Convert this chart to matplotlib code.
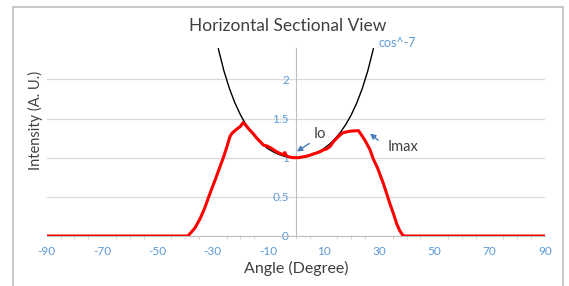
import matplotlib
matplotlib.use("Agg")
import matplotlib.pyplot as plt
from matplotlib.patches import Rectangle
from matplotlib.ticker import MultipleLocator

# measured intensity (red)
red_angle = [-90, -39, -36.5, -34.6, -33, -31, -29, -27.4, -26, -24.9, -23.8, -23.1,
             -21.5, -20, -19, -18, -17.1, -15.5, -14.1, -12.5, -11.7, -10.5, -9.3, -8,
             -6.9, -5.5, -4.5, -4, -3.3, -2.5, -1, 0, 1, 2.5, 4, 5, 6.5, 7.5, 8.7, 10,
             11, 12.3, 13.5, 14.8, 16, 17.1, 18.5, 20, 22.6, 23.5, 25, 26.8, 28, 29.5,
             31.6, 33, 34, 35.2, 36.5, 37.5, 38.8, 90]
red_value = [0, 0, 0.1, 0.22, 0.35, 0.545, 0.73, 0.885, 1.02, 1.14, 1.27, 1.31,
             1.36, 1.40, 1.45, 1.41, 1.37, 1.31, 1.25, 1.19, 1.16, 1.15, 1.13, 1.10,
             1.075, 1.05, 1.04, 1.065, 1.02, 1.01, 1.0, 1.0, 1.0, 1.01, 1.02, 1.03, 1.05, 1.06, 1.075, 1.10,
             1.11, 1.14, 1.20, 1.25, 1.29, 1.32, 1.33, 1.34, 1.345, 1.30, 1.22, 1.10, 0.98, 0.87,
             0.67, 0.52, 0.41, 0.29, 0.15, 0.07, 0, 0]

# cos^-7 reference curve (black)
cos_angle = [-28, -26, -24, -22, -20, -18, -16, -14, -12, -10, -8, -6, -4, -2, 0,
             2, 4, 6, 8, 10, 12, 14, 16, 18, 20, 22, 24, 26, 28]
cos_value = [2.390, 2.110, 1.883, 1.698, 1.546, 1.421, 1.319, 1.235, 1.167, 1.113, 1.071, 1.039, 1.017, 1.004, 1.0,
             1.004, 1.017, 1.039, 1.071, 1.113, 1.167, 1.235, 1.319, 1.421, 1.546, 1.698, 1.883, 2.110, 2.390]

x_ticks = [-90, -70, -50, -30, -10, 10, 30, 50, 70, 90]
y_ticks = [0, 0.5, 1, 1.5, 2]
y_tick_labels = ["0", "0.5", "1", "1.5", "2"]

plt.rcParams['font.family'] = ['Lato', 'DejaVu Sans']
blue = '#5b9bd5'
dark = '#404040'
gray = '#bfbfbf'

fig = plt.figure(figsize=(5.69, 2.86), dpi=100)
fig.patches.append(Rectangle((12.7/569, -0.05), (563.3-12.7)/569, 1.05 - 7.3/286,
                             transform=fig.transFigure, fill=False, edgecolor=gray, lw=1.2))
ax = fig.add_axes([46.7/569, 1-236/286, (545-46.7)/569, (236-48)/286])
ax.set_xlim(-90, 90)
ax.set_ylim(0, 2.4)

for s in ['top', 'right']:
    ax.spines[s].set_visible(False)
ax.spines['left'].set_position(('data', 0))
ax.spines['left'].set_color(gray)
ax.spines['bottom'].set_color(gray)

ax.set_yticks(y_ticks)
ax.set_yticklabels(y_tick_labels)
ax.set_xticks(x_ticks)
ax.set_xticklabels([str(t) for t in x_ticks])
ax.xaxis.set_minor_locator(MultipleLocator(5))
ax.tick_params(axis='x', which='major', length=0, colors=blue, labelsize=8.5, pad=7)
ax.tick_params(axis='x', which='minor', length=2, direction='out', color='#d0d0d0')
ax.tick_params(axis='y', length=0, colors=blue, labelsize=8.5, pad=5)
for lbl in ax.get_yticklabels() + ax.get_xticklabels():
    lbl.set_color(blue)
ax.grid(axis='y', color='#d9d9d9', lw=0.9)
ax.set_axisbelow(True)

ax.plot(cos_angle, cos_value, color='black', lw=1.0, zorder=3, clip_on=True)
ax.plot(red_angle, red_value, color='#ff0000', lw=2.2, zorder=4)

ax.text(29.7, 2.46, "cos^-7", color=blue, fontsize=9, ha='left', va='center', clip_on=False)

ax.annotate("", xy=(-0.5, 1.06), xytext=(5.7, 1.20),
            arrowprops=dict(arrowstyle='-|>', color='#4a7ebb', lw=1.0, mutation_scale=8))
ax.text(6.3, 1.30, "Io", color=dark, fontsize=10.5, ha='left', va='center')
ax.annotate("", xy=(26.0, 1.33), xytext=(30.5, 1.20),
            arrowprops=dict(arrowstyle='-|>', color='#4a7ebb', lw=1.0, mutation_scale=8))
ax.text(33.0, 1.14, "Imax", color=dark, fontsize=10.5, ha='left', va='center')

fig.text(288/569, 1-26/286, "Horizontal Sectional View", color=dark, fontsize=12.5,
         ha='center', va='center')
fig.text(35/569, 1-120/286, "Intensity (A. U.)", color=dark, fontsize=10.5,
         ha='center', va='center', rotation=90)
fig.text(296/569, 1-268/286, "Angle (Degree)", color=dark, fontsize=11.5,
         ha='center', va='center')

fig.savefig("out.png", dpi=100)
